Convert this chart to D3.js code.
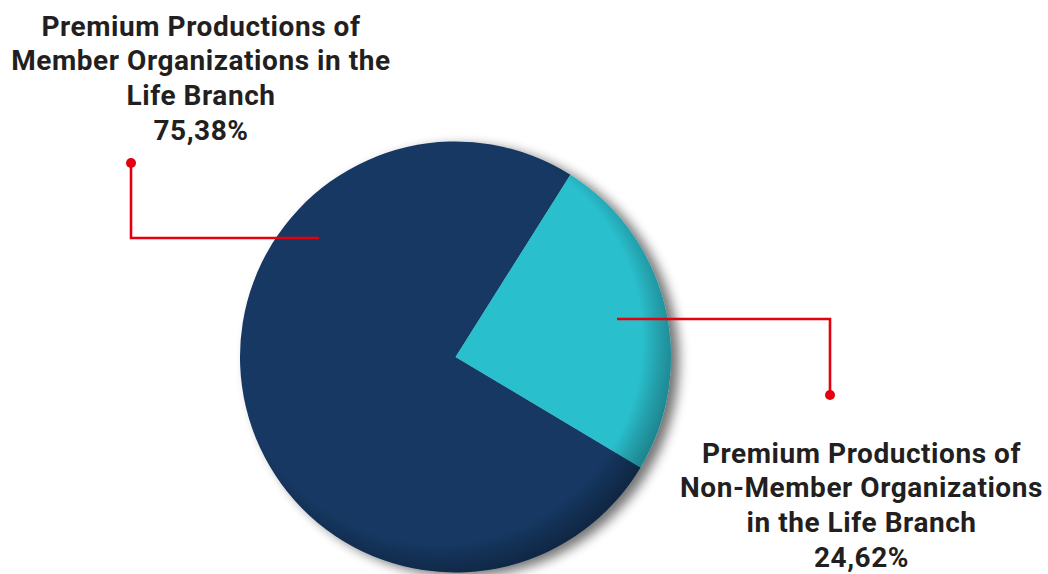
<!DOCTYPE html>
<html>
<head>
<meta charset="utf-8">
<script src="https://cdn.jsdelivr.net/npm/d3@7"></script>
<style>
html,body{margin:0;padding:0;background:#fff;}
svg{display:block;}
</style>
</head>
<body>
<svg id="chart" width="1048" height="574"></svg>
<script>
const categories = ["Premium Productions of Member Organizations in the Life Branch",
                    "Premium Productions of Non-Member Organizations in the Life Branch"];
const values = [75.38, 24.62];
const valueLabels = ["75,38%", "24,62%"];
const labelLines = [
  ["Premium Productions of", "Member Organizations in the", "Life Branch"],
  ["Premium Productions of", "Non-Member Organizations", "in the Life Branch"]
];
const colors = ["#143762", "#2bbfcd"];

const W = 1048, H = 574;
const cx = 455.5, cy = 357, R = 215.5;
const svg = d3.select("#chart");
const defs = svg.append("defs");

const shadow = defs.append("filter").attr("id","drop").attr("x","-20%").attr("y","-20%").attr("width","150%").attr("height","150%");
shadow.append("feGaussianBlur").attr("in","SourceAlpha").attr("stdDeviation",6).attr("result","b");
shadow.append("feOffset").attr("in","b").attr("dx",8).attr("dy",4).attr("result","o");
shadow.append("feComponentTransfer").attr("in","o").attr("result","oc")
  .append("feFuncA").attr("type","linear").attr("slope",0.55);
const m = shadow.append("feMerge");
m.append("feMergeNode").attr("in","oc");
m.append("feMergeNode").attr("in","SourceGraphic");

const rg = defs.append("radialGradient").attr("id","edge")
  .attr("gradientUnits","userSpaceOnUse")
  .attr("cx", cx - 0.08*R).attr("cy", cy - 0.08*R).attr("r", 1.1*R);
rg.append("stop").attr("offset","0.86").attr("stop-color","#000").attr("stop-opacity",0);
rg.append("stop").attr("offset","0.93").attr("stop-color","#000").attr("stop-opacity",0.16);
rg.append("stop").attr("offset","1").attr("stop-color","#000").attr("stop-opacity",0.3);

const startDeg = 32.2 + 360*values[1]/100;
const pie = d3.pie().sort(null).value(d=>d)
  .startAngle(startDeg*Math.PI/180).endAngle(startDeg*Math.PI/180 + 2*Math.PI);
const arcs = pie(values);
const arc = d3.arc().innerRadius(0).outerRadius(R);

const g = svg.append("g").attr("transform",`translate(${cx},${cy})`);
const pg = g.append("g").attr("filter","url(#drop)");
pg.selectAll("path").data(arcs).join("path")
  .attr("d", arc).attr("fill",(d,i)=>colors[i]);
svg.append("circle").attr("cx",cx).attr("cy",cy).attr("r",R).attr("fill","url(#edge)");

const red = "#e3000f";
const leaders = [
  [[319,238],[131,238],[131,163]],
  [[617,319],[830,319],[830,395]]
];
const line = d3.line();
leaders.forEach(pts=>{
  svg.append("path").attr("d", line(pts)).attr("fill","none")
    .attr("stroke", red).attr("stroke-width", 2.6);
  const e = pts[pts.length-1];
  svg.append("circle").attr("cx",e[0]).attr("cy",e[1]).attr("r",5).attr("fill",red);
});

const labelPos = [{x:201, y:35.5}, {x:861.5, y:462.5}];
const lh = 34.7;
labelPos.forEach((p,i)=>{
  const t = svg.append("text").attr("text-anchor","middle")
    .attr("font-family","Roboto, 'Liberation Sans', sans-serif")
    .attr("font-weight",700).attr("font-size",28).attr("letter-spacing","0.55px")
    .attr("fill","#231f20");
  const lines = labelLines[i].concat([valueLabels[i]]);
  lines.forEach((s,j)=>{
    t.append("tspan").attr("x",p.x).attr("y",p.y + j*lh).text(s);
  });
});
</script>
</body>
</html>
